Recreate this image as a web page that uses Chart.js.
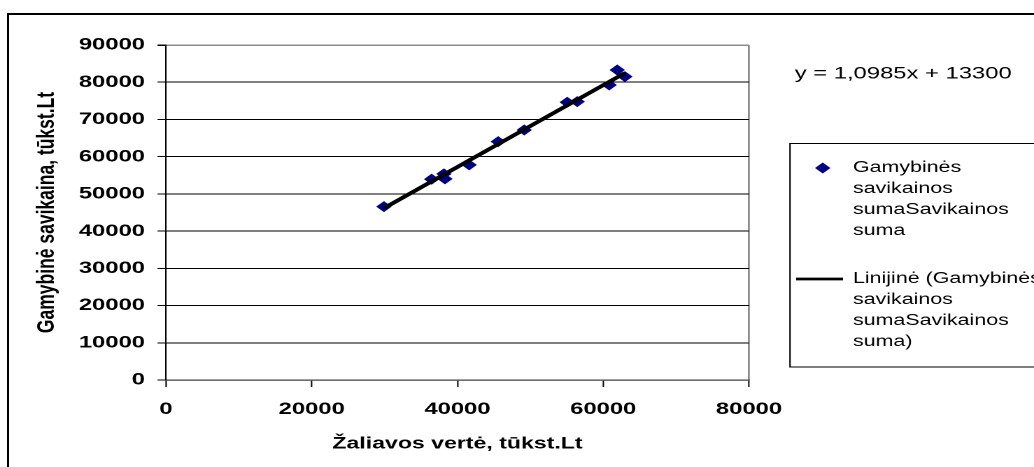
<!DOCTYPE html>
<html lang="lt">
<head>
<meta charset="utf-8">
<title>Žaliavos vertė ir gamybinė savikaina</title>
<script src="https://cdn.jsdelivr.net/npm/chart.js@4.4.1/dist/chart.umd.min.js"></script>
<style>
  html, body { margin: 0; padding: 0; background: #fff; }
  body { width: 1034px; height: 467px; overflow: hidden; position: relative; }
  /* išorinis rėmelis aplink visą diagramą */
  #remelis { position: absolute; left: 7px; top: 13px; width: 1100px; height: 500px; border: 2px solid #000; }
  /* originalas yra ištemptas horizontaliai, todėl drobę temptame tuo pačiu santykiu */
  #grafikas { position: absolute; left: 0; top: 0; transform: scaleX(1.3992); transform-origin: 0 0; }
</style>
</head>
<body>
<div id="remelis"></div>
<canvas id="grafikas" width="739" height="467"></canvas>
<script>
// duomenys nuskaityti nuo paveikslo
const zaliavosVerte = [29910, 36450, 38140, 38280, 41610, 45590, 49160, 55060, 56430, 60820, 61920, 62970];
const savikaina     = [46590, 53950, 55370, 54030, 57790, 64040, 67180, 74620, 74780, 79260, 83290, 81490];

// tiesinės tendencijos linijos galai (pagal paveikslą)
const trendX = [29910, 62970];
const trendY = [46150, 82480];

const lygtis = "y = 1,0985x + 13300";
const xPavadinimas = "Žaliavos vertė, tūkst.Lt";
const yPavadinimas = "Gamybinė savikaina, tūkst.Lt";

// legendos tekstas eilutėmis
const taskuEilutes = ["Gamybinės", "savikainos", "sumaSavikainos", "suma"];
const linijosEilutes = ["Linijinė (Gamybinės", "savikainos", "sumaSavikainos", "suma)"];

const SRIFTAS = '"Liberation Sans", Arial, sans-serif';
Chart.defaults.font.family = SRIFTAS;
Chart.defaults.color = "#000";

// legenda ir lygtis piešiamos ranka, kad tekstas būtų per kelias eilutes
const legendaPlugin = {
    id: "legenda",
    afterDraw(chart) {
        const ctx = chart.ctx;
        ctx.save();

        ctx.font = "17px " + SRIFTAS;
        ctx.fillStyle = "#000";
        ctx.textBaseline = "middle";
        ctx.fillText(lygtis, 568, 74);

        ctx.strokeStyle = "#000";
        ctx.lineWidth = 1;
        ctx.strokeRect(564.6, 143.5, 300, 223.5);

        ctx.font = "15.3px " + SRIFTAS;
        const eilutes = [taskuEilutes, linijosEilutes];
        const pradzia = [168, 279];
        chart.data.datasets.forEach((ds, i) => {
            const y0 = pradzia[i];
            if (ds.showLine) {
                ctx.strokeStyle = ds.borderColor;
                ctx.lineWidth = 2.8;
                ctx.beginPath();
                ctx.moveTo(569, y0);
                ctx.lineTo(602.5, y0);
                ctx.stroke();
            } else {
                ctx.fillStyle = ds.backgroundColor;
                ctx.strokeStyle = ds.borderColor;
                ctx.lineWidth = 1;
                Chart.helpers.drawPoint(ctx, { pointStyle: ds.pointStyle, radius: 4.8, rotation: 0, borderWidth: 1 }, 588, y0);
            }
            ctx.fillStyle = "#000";
            eilutes[i].forEach((t, k) => ctx.fillText(t, 609.6, y0 + k * 21));
        });
        ctx.restore();
    }
};

const ctx = document.getElementById("grafikas").getContext("2d");

new Chart(ctx, {
    type: "scatter",
    data: {
        datasets: [
            {
                label: taskuEilutes.join(" "),
                data: zaliavosVerte.map((x, i) => ({ x: x, y: savikaina[i] })),
                pointStyle: "rectRot",
                pointRadius: 4.8,
                backgroundColor: "#000080",
                borderColor: "#000080",
                borderWidth: 1,
                showLine: false,
                order: 1
            },
            {
                label: linijosEilutes.join(" "),
                data: trendX.map((x, i) => ({ x: x, y: trendY[i] })),
                borderColor: "#000",
                backgroundColor: "#000",
                borderWidth: 3.6,
                pointRadius: 0,
                showLine: true,
                order: 0
            }
        ]
    },
    options: {
        responsive: false,
        animation: false,
        devicePixelRatio: 2,
        layout: { padding: { left: 0, top: 45, right: 203.7, bottom: 0 } },
        plugins: {
            legend: { display: false },
            tooltip: { enabled: false }
        },
        scales: {
            x: {
                type: "linear",
                min: 0,
                max: 80000,
                afterFit: s => { s.height = 87; },
                ticks: {
                    stepSize: 20000,
                    padding: 12,
                    font: { size: 17, weight: "bold" },
                    callback: v => String(v)
                },
                grid: {
                    color: c => (c.tick && c.tick.value === 80000) ? "#8c8c8c" : "rgba(0,0,0,0)",
                    lineWidth: 1.4,
                    tickColor: "#000",
                    tickLength: 7,
                    tickWidth: 1
                },
                border: { color: "#404040", width: 1.2 },
                title: {
                    display: true,
                    text: xPavadinimas,
                    font: { size: 16.5, weight: "bold" },
                    padding: { top: 0, bottom: 13 }
                }
            },
            y: {
                min: 0,
                max: 90000,
                afterFit: s => { s.width = 118.6; },
                ticks: {
                    stepSize: 10000,
                    padding: 9,
                    font: { size: 17, weight: "bold" },
                    callback: v => String(v)
                },
                grid: {
                    color: c => (c.tick && c.tick.value === 90000) ? "#8c8c8c" : "#000",
                    lineWidth: c => (c.tick && c.tick.value === 90000) ? 1.5 : 1,
                    tickColor: "#000",
                    tickLength: 6
                },
                border: { color: "#000", width: 1 },
                title: {
                    display: true,
                    text: yPavadinimas,
                    font: { size: 17.5, weight: "bold" },
                    padding: { top: 23.2, bottom: 0 }
                }
            }
        }
    },
    plugins: [legendaPlugin]
});
</script>
</body>
</html>
